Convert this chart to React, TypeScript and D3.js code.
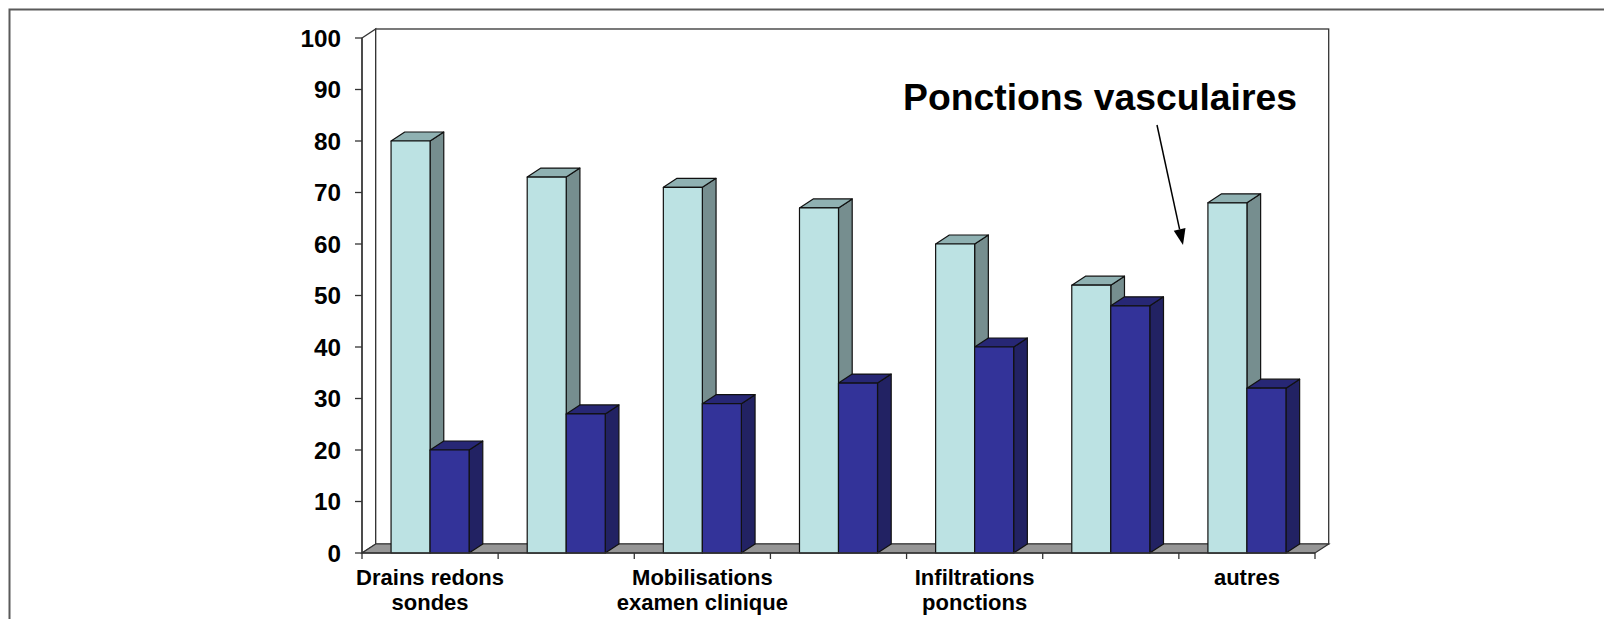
import React from "react";
import * as d3 from "d3";

// Category labels (Excel skipped every other label in the reference)
const categories: string[][] = [
  ["Drains redons", "sondes"],
  [],
  ["Mobilisations", "examen clinique"],
  [],
  ["Infiltrations", "ponctions"],
  [],
  ["autres"],
];
const seriesLight: number[] = [80, 73, 71, 67, 60, 52, 68];
const seriesDark: number[] = [20, 27, 29, 33, 40, 48, 32];
const yTicks: number[] = [0, 10, 20, 30, 40, 50, 60, 70, 80, 90, 100];
const annotation = "Ponctions vasculaires";

const W = 1604;
const H = 619;
const DX = 13.7;
const DY = -9;

const FONT = "'Liberation Sans', Arial, Helvetica, sans-serif";

const colors = {
  light: { front: "#BCE2E3", top: "#8FB1B2", side: "#768E8F" },
  dark: { front: "#333399", top: "#272775", side: "#222263" },
};

function Bar3D({ x, w, y0, y1, c }: { x: number; w: number; y0: number; y1: number; c: { front: string; top: string; side: string } }) {
  const front = `M${x},${y1}L${x + w},${y1}L${x + w},${y0}L${x},${y0}Z`;
  const top = `M${x},${y1}L${x + DX},${y1 + DY}L${x + w + DX},${y1 + DY}L${x + w},${y1}Z`;
  const side = `M${x + w},${y1}L${x + w + DX},${y1 + DY}L${x + w + DX},${y0 + DY}L${x + w},${y0}Z`;
  return (
    <g stroke="#111" strokeWidth={1.2} strokeLinejoin="round">
      <path d={side} fill={c.side} />
      <path d={top} fill={c.top} />
      <path d={front} fill={c.front} />
    </g>
  );
}

export default function App() {
  const x0 = 362;
  const x1 = 1315;
  const y = d3.scaleLinear().domain([0, 100]).range([553, 38]);
  const idx = categories.map((_, i) => String(i));
  const x = d3.scaleBand<string>().domain(idx).range([x0, x1]).padding(0);
  const inner = d3
    .scaleBand<string>()
    .domain(["light", "dark"])
    .range([0, x.bandwidth()])
    .paddingInner(0)
    .paddingOuter(0.745);

  const yTop = y(100);
  const yBot = y(0);
  const arrowStart: [number, number] = [1157, 125];
  const arrowEnd: [number, number] = [1183, 245];
  const ang = Math.atan2(arrowEnd[1] - arrowStart[1], arrowEnd[0] - arrowStart[0]);
  const hl = 16;
  const hw = 6;
  const bx = arrowEnd[0] - hl * Math.cos(ang);
  const by = arrowEnd[1] - hl * Math.sin(ang);
  const px = -Math.sin(ang) * hw;
  const py = Math.cos(ang) * hw;

  return (
    <svg
      width={W}
      height={H}
      viewBox={`0 0 ${W} ${H}`}
      style={{ position: "absolute", left: 0, top: 0, display: "block", background: "#fff" }}
      fontFamily={FONT}
    >
      <rect x={0} y={0} width={W} height={H} fill="#fff" />
      {/* outer frame */}
      <path d={`M9.5,${H}L9.5,9.5L${W},9.5`} fill="none" stroke="#5a5a5a" strokeWidth={2} />

      {/* left wall */}
      <path
        d={`M${x0},${yTop}L${x0 + DX},${yTop + DY}L${x0 + DX},${yBot + DY}L${x0},${yBot}Z`}
        fill="#fff"
        stroke="#333"
        strokeWidth={1.3}
      />
      {/* back wall */}
      <rect
        x={x0 + DX}
        y={yTop + DY}
        width={x1 - x0}
        height={yBot - yTop}
        fill="#fff"
        stroke="#333"
        strokeWidth={1.3}
      />
      {/* floor */}
      <path
        d={`M${x0},${yBot}L${x0 + DX},${yBot + DY}L${x1 + DX},${yBot + DY}L${x1},${yBot}Z`}
        fill="#969696"
        stroke="#333"
        strokeWidth={1.2}
      />

      {/* bars */}
      {idx.map((k, i) => {
        const bx0 = (x(k) as number) + (inner("light") as number);
        const bx1 = (x(k) as number) + (inner("dark") as number);
        const bw = inner.bandwidth();
        return (
          <g key={k}>
            <Bar3D x={bx0} w={bw} y0={yBot} y1={y(seriesLight[i])} c={colors.light} />
            <Bar3D x={bx1} w={bw} y0={yBot} y1={y(seriesDark[i])} c={colors.dark} />
          </g>
        );
      })}

      {/* y axis */}
      <line x1={x0} y1={yTop} x2={x0} y2={yBot} stroke="#333" strokeWidth={1.3} />
      {yTicks.map((t) => (
        <g key={t}>
          <line x1={x0 - 7} x2={x0} y1={y(t)} y2={y(t)} stroke="#333" strokeWidth={1.3} />
          <text
            x={341}
            y={y(t)}
            dy="0.36em"
            textAnchor="end"
            fontSize={24.3}
            fontWeight="bold"
            fill="#000"
          >
            {t}
          </text>
        </g>
      ))}

      {/* x axis */}
      <line x1={x0} y1={yBot} x2={x1} y2={yBot} stroke="#333" strokeWidth={1.3} />
      {idx.concat(["end"]).map((k) => {
        const tx = k === "end" ? x1 : (x(k) as number);
        return <line key={"t" + k} x1={tx} x2={tx} y1={yBot} y2={yBot + 6} stroke="#333" strokeWidth={1.3} />;
      })}
      {categories.map((lines, i) => (
        <text
          key={"c" + i}
          x={(x(String(i)) as number) + x.bandwidth() / 2}
          y={585}
          textAnchor="middle"
          fontSize={22}
          fontWeight="bold"
          fill="#000"
        >
          {lines.map((l, j) => (
            <tspan key={j} x={(x(String(i)) as number) + x.bandwidth() / 2} dy={j === 0 ? 0 : 25}>
              {l}
            </tspan>
          ))}
        </text>
      ))}

      {/* annotation */}
      <text x={1100} y={110} textAnchor="middle" fontSize={37.3} fontWeight="bold" fill="#000">
        {annotation}
      </text>
      <line x1={arrowStart[0]} y1={arrowStart[1]} x2={bx} y2={by} stroke="#000" strokeWidth={1.5} />
      <path d={`M${arrowEnd[0]},${arrowEnd[1]}L${bx + px},${by + py}L${bx - px},${by - py}Z`} fill="#000" />
    </svg>
  );
}
